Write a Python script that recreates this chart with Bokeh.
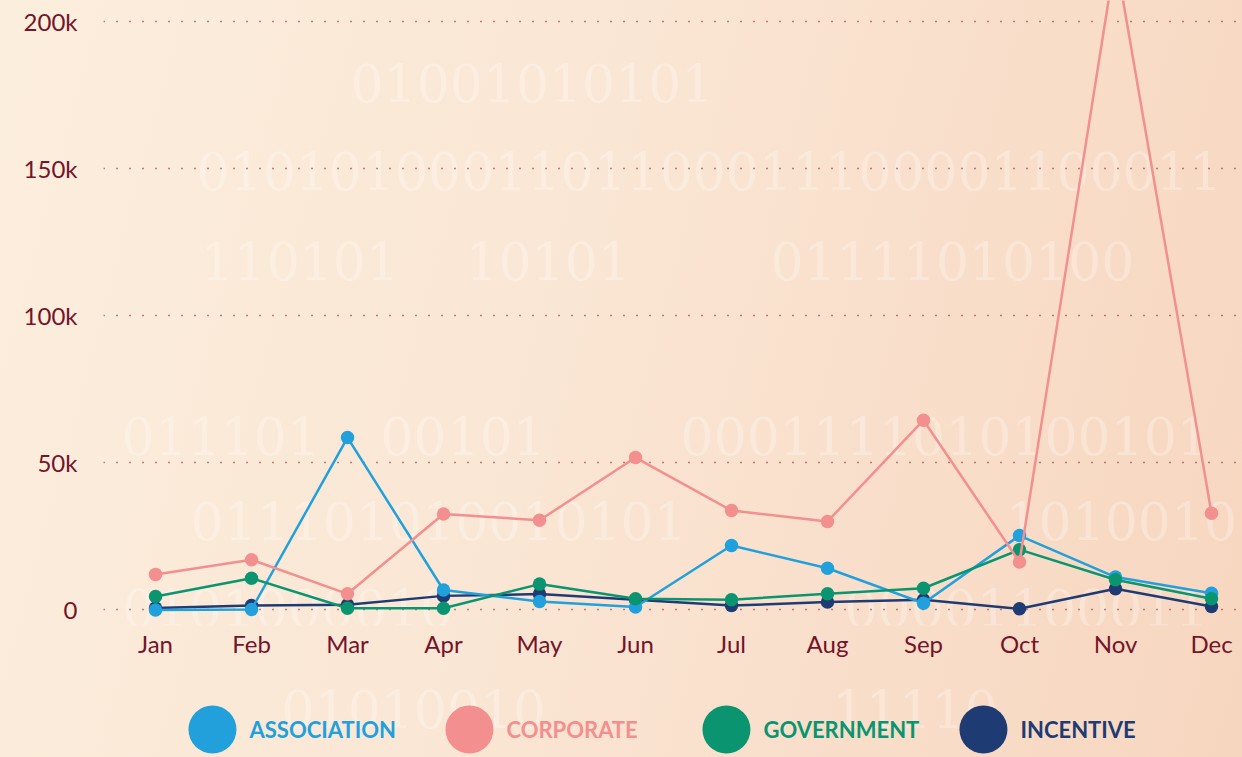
from bokeh.plotting import figure
from bokeh.models import Range1d, FixedTicker, NumeralTickFormatter, Label, ColumnDataSource
from bokeh.layouts import column
from bokeh.embed import file_html
from bokeh.resources import INLINE
from bokeh.core.properties import value

# ---------------- data ----------------
months = ["Jan", "Feb", "Mar", "Apr", "May", "Jun", "Jul", "Aug", "Sep", "Oct", "Nov", "Dec"]
association = [0, 200, 58600, 6800, 2900, 1000, 21900, 14200, 2300, 25300, 11200, 5700]
corporate = [12100, 17100, 5500, 32600, 30500, 51800, 33800, 30100, 64500, 16300, 222000, 32900]
government = [4600, 10800, 600, 600, 8800, 3800, 3500, 5500, 7400, 20500, 10300, 3800]
incentive = [700, 1500, 1800, 4800, 5400, 3500, 1500, 2700, 3500, 400, 7200, 1200]
series_names = ["ASSOCIATION", "CORPORATE", "GOVERNMENT", "INCENTIVE"]
series_colors = ["#22A0DC", "#F38F8F", "#0A9470", "#1F3B73"]
y_ticks = [0, 50000, 100000, 150000, 200000]

# decorative binary watermark rows: (text, left x, centre y) in page pixels
watermark_main = [
    ("01001010101", 350, 82),
    ("0101010001101100011100001100011", 196, 170),
    ("110101", 200, 260), ("10101", 465, 260), ("01111010100", 770, 260),
    ("011101", 121, 435), ("00101", 380, 435), ("0001111010100101", 680, 435),
    ("011101010010101", 190, 520), ("1010010", 1005, 520),
    ("0101000010", 122, 607), ("00001100011", 844, 607),
]
watermark_legend = [("01010010", 281, 708), ("11110", 832, 708)]

TEXT = "#74142A"
FONT = "Lato"
FIG_W = 1242
MAIN_H = 680
LEG_H = 77
FRAME_LEFT = 103      # page x of the plotting frame's left edge
FRAME_BOTTOM = 625    # page y of the main frame's bottom edge

# ---------------- main chart ----------------
p = figure(width=FIG_W, height=MAIN_H, output_backend="svg", toolbar_location=None,
           x_range=Range1d(-0.542, 11.323), y_range=Range1d(-5268, 207137),
           min_border_left=FRAME_LEFT, min_border_right=0, min_border_top=0,
           min_border_bottom=MAIN_H - FRAME_BOTTOM)
p.background_fill_alpha = 0
p.border_fill_alpha = 0
p.outline_line_color = None

for txt, px, py in watermark_main:
    p.add_layout(Label(x=px - FRAME_LEFT, y=FRAME_BOTTOM - py, x_units="screen", y_units="screen",
                       text=txt, text_font="DejaVu Serif", text_font_size="52px", text_color="white",
                       text_alpha=0.27, text_baseline="middle", text_align="left", level="image"))

xs = list(range(len(months)))
series_values = [association, corporate, government, incentive]
for k in [3, 0, 2, 1]:
    src = ColumnDataSource(dict(x=xs, y=series_values[k]))
    p.line("x", "y", source=src, line_color=series_colors[k], line_width=2.5)
    p.scatter("x", "y", source=src, size=13.5, fill_color=series_colors[k], line_color=None)

p.xaxis.ticker = FixedTicker(ticks=xs)
p.xaxis.major_label_overrides = {i: m for i, m in enumerate(months)}
p.yaxis.ticker = FixedTicker(ticks=y_ticks)
p.yaxis.formatter = NumeralTickFormatter(format="0a")
for ax in (p.xaxis, p.yaxis):
    ax.axis_line_color = None
    ax.major_tick_line_color = None
    ax.major_tick_out = 0
    ax.major_tick_in = 0
    ax.minor_tick_line_color = None
    ax.major_label_text_color = TEXT
    ax.major_label_text_font = FONT
    ax.major_label_text_font_size = "24px"
p.xaxis.major_label_standoff = 3
p.yaxis.major_label_standoff = 26

p.xgrid.grid_line_color = None
p.ygrid.grid_line_color = "#7A1526"
p.ygrid.grid_line_dash = "1 12"
p.ygrid.grid_line_width = 1.3

# ---------------- legend strip (frame aligned with the chart's frame) ----------------
leg = figure(width=FIG_W, height=LEG_H, output_backend="svg", toolbar_location=None,
             x_range=Range1d(-0.424, 4.008), y_range=Range1d(-28, 49),
             x_axis_type=None, y_axis_type=None, min_border=0,
             min_border_left=FRAME_LEFT)
leg.background_fill_alpha = 0
leg.border_fill_alpha = 0
leg.outline_line_color = None
leg.xgrid.visible = False
leg.ygrid.visible = False

for txt, px, py in watermark_legend:
    leg.add_layout(Label(x=px - FRAME_LEFT, y=MAIN_H + LEG_H - py, x_units="screen", y_units="screen",
                         text=txt, text_font="DejaVu Serif", text_font_size="52px", text_color="white",
                         text_alpha=0.27, text_baseline="middle", text_align="left", level="image"))

lsrc = ColumnDataSource(dict(x=list(range(len(series_names))), y=[0] * len(series_names),
                             name=series_names, color=series_colors))
leg.scatter("x", "y", source=lsrc, size=48, fill_color="color", line_color=None)
leg.text("x", "y", text="name", source=lsrc, text_color="color", x_offset=37,
         text_baseline="middle", text_align="left", text_font=value(FONT),
         text_font_style="bold", text_font_size="22px")

layout = column(p, leg, spacing=0,
                styles={"background": "linear-gradient(105deg, #FCEEDD 0%, #FAE6D4 45%, #F7D6BF 100%)"})

open("out.html", "w").write(file_html(layout, INLINE))
